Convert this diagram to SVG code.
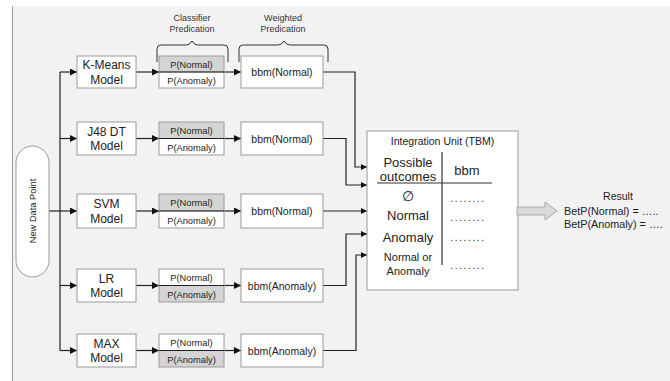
<svg xmlns="http://www.w3.org/2000/svg" width="670" height="381" viewBox="0 0 670 381">
<defs>
<marker id="ah" viewBox="0 0 10 10" refX="10" refY="5" markerWidth="8" markerHeight="7" markerUnits="userSpaceOnUse" orient="auto">
<path d="M0,0 L10,5 L0,10 z" fill="#111"/>
</marker>
<marker id="ahs" viewBox="0 0 10 10" refX="10" refY="5" markerWidth="7" markerHeight="6" markerUnits="userSpaceOnUse" orient="auto">
<path d="M0,0 L10,5 L0,10 z" fill="#111"/>
</marker>
<style>
text{font-family:"Liberation Sans",Arial,sans-serif;fill:#222}
.box{fill:#fff;stroke:#9a9a9a;stroke-width:1}
.hl{fill:#d4d4d4;stroke:#9a9a9a;stroke-width:1}
.ln{fill:none;stroke:#222;stroke-width:1.2}
.m{font-size:12px;text-anchor:middle}
.p{font-size:9.3px;text-anchor:middle}
.b{font-size:10.5px;text-anchor:middle}
.hd{font-size:9px;text-anchor:middle;fill:#333}
.br{fill:none;stroke:#333;stroke-width:1}
.t{font-size:13px;text-anchor:middle}
.d{font-size:10px;text-anchor:middle;letter-spacing:1.6px}
</style>
</defs>
<rect x="12" y="6" width="658" height="375" fill="#f2f2f2"/>
<line x1="12.5" y1="6" x2="12.5" y2="381" stroke="#999" stroke-width="1"/>

<g id="headers">
<text class="hd" x="192" y="20.5">Classifier</text>
<text class="hd" x="192" y="32">Predication</text>
<text class="hd" x="283" y="20.5">Weighted</text>
<text class="hd" x="283" y="32">Predication</text>
<path class="br" d="M157,62 V49 Q157,45 161,45 H186 Q190,45 192,41 Q194,45 198,45 H224 Q228,45 228,49 V62"/>
<path class="br" d="M239,62 V49 Q239,45 243,45 H278 Q282,45 284,41 Q286,45 290,45 H324 Q328,45 328,49 V62"/>
</g>

<g id="connectors">
<path class="ln" d="M49,211 H77" marker-end="url(#ah)"/>
<path class="ln" d="M60,72 V350.5"/>
<path class="ln" d="M60,72 H77" marker-end="url(#ah)"/>
<path class="ln" d="M60,138.5 H77" marker-end="url(#ah)"/>
<path class="ln" d="M60,285.5 H77" marker-end="url(#ah)"/>
<path class="ln" d="M60,350.5 H77" marker-end="url(#ah)"/>
<path class="ln" d="M136,72 H159" marker-end="url(#ah)"/>
<path class="ln" d="M136,138.5 H159" marker-end="url(#ah)"/>
<path class="ln" d="M136,211 H159" marker-end="url(#ah)"/>
<path class="ln" d="M136,285.5 H159" marker-end="url(#ah)"/>
<path class="ln" d="M136,350.5 H159" marker-end="url(#ah)"/>
<path class="ln" d="M224,72 H241" marker-end="url(#ah)"/>
<path class="ln" d="M224,138.5 H241" marker-end="url(#ah)"/>
<path class="ln" d="M224,211 H241" marker-end="url(#ah)"/>
<path class="ln" d="M224,285.5 H241" marker-end="url(#ah)"/>
<path class="ln" d="M224,350.5 H241" marker-end="url(#ah)"/>
<path class="ln" d="M323,72 H355 V167 H367" marker-end="url(#ahs)"/>
<path class="ln" d="M323,138.5 H346 V185 H367" marker-end="url(#ahs)"/>
<path class="ln" d="M323,211 H367" marker-end="url(#ahs)"/>
<path class="ln" d="M323,285.5 H346 V234 H367" marker-end="url(#ahs)"/>
<path class="ln" d="M323,350.5 H356 V255 H367" marker-end="url(#ahs)"/>
</g>

<g id="new-data-point">
<rect class="box" x="16" y="146" width="33" height="131" rx="16.5" ry="16.5"/>
<text class="p" transform="translate(35.5,211) rotate(-90)">New Data Point</text>
</g>

<g id="kmeans-model"><rect class="box" x="77" y="56" width="59" height="32"/><text class="m" x="106.5" y="69">K-Means</text><text class="m" x="106.5" y="83.5">Model</text></g>
<g id="j48-model"><rect class="box" x="77" y="122" width="59" height="33"/><text class="m" x="106.5" y="135.5">J48 DT</text><text class="m" x="106.5" y="150">Model</text></g>
<g id="svm-model"><rect class="box" x="77" y="194" width="59" height="34"/><text class="m" x="106.5" y="208">SVM</text><text class="m" x="106.5" y="222.5">Model</text></g>
<g id="lr-model"><rect class="box" x="77" y="269" width="59" height="33"/><text class="m" x="106.5" y="282.5">LR</text><text class="m" x="106.5" y="297">Model</text></g>
<g id="max-model"><rect class="box" x="77" y="334" width="59" height="33"/><text class="m" x="106.5" y="347.5">MAX</text><text class="m" x="106.5" y="362">Model</text></g>

<g id="kmeans-pred"><rect class="hl" x="159" y="56" width="65" height="16"/><rect class="box" x="159" y="72" width="65" height="16"/><line x1="159" y1="72" x2="224" y2="72" stroke="#222" stroke-width="1.2"/><text class="p" x="191.5" y="67.5">P(Normal)</text><text class="p" x="191.5" y="84">P(Anomaly)</text></g>
<g id="j48-pred"><rect class="hl" x="159" y="122" width="65" height="16.5"/><rect class="box" x="159" y="138.5" width="65" height="16.5"/><line x1="159" y1="138.5" x2="224" y2="138.5" stroke="#222" stroke-width="1.2"/><text class="p" x="191.5" y="134">P(Normal)</text><text class="p" x="191.5" y="151">P(Anomaly)</text></g>
<g id="svm-pred"><rect class="hl" x="159" y="194" width="65" height="17"/><rect class="box" x="159" y="211" width="65" height="17"/><line x1="159" y1="211" x2="224" y2="211" stroke="#222" stroke-width="1.2"/><text class="p" x="191.5" y="206">P(Normal)</text><text class="p" x="191.5" y="223.5">P(Anomaly)</text></g>
<g id="lr-pred"><rect class="box" x="159" y="269" width="65" height="16.5"/><rect class="hl" x="159" y="285.5" width="65" height="16.5"/><line x1="159" y1="285.5" x2="224" y2="285.5" stroke="#222" stroke-width="1.2"/><text class="p" x="191.5" y="281">P(Normal)</text><text class="p" x="191.5" y="298">P(Anomaly)</text></g>
<g id="max-pred"><rect class="box" x="159" y="334" width="65" height="16.5"/><rect class="hl" x="159" y="350.5" width="65" height="16.5"/><line x1="159" y1="350.5" x2="224" y2="350.5" stroke="#222" stroke-width="1.2"/><text class="p" x="191.5" y="346">P(Normal)</text><text class="p" x="191.5" y="363">P(Anomaly)</text></g>

<g id="kmeans-bbm"><rect class="box" x="241" y="56" width="82" height="32"/><text class="b" x="282" y="76">bbm(Normal)</text></g>
<g id="j48-bbm"><rect class="box" x="241" y="122" width="82" height="33"/><text class="b" x="282" y="142.5">bbm(Normal)</text></g>
<g id="svm-bbm"><rect class="box" x="241" y="194" width="82" height="34"/><text class="b" x="282" y="215">bbm(Normal)</text></g>
<g id="lr-bbm"><rect class="box" x="241" y="269" width="82" height="33"/><text class="b" x="282" y="289.5">bbm(Anomaly)</text></g>
<g id="max-bbm"><rect class="box" x="241" y="334" width="82" height="33"/><text class="b" x="282" y="354.5">bbm(Anomaly)</text></g>

<g id="integration-unit">
<rect class="box" x="367" y="131" width="151" height="159"/>
<text x="442.5" y="144.5" style="font-size:10.5px;text-anchor:middle">Integration Unit (TBM)</text>
<line x1="442" y1="152" x2="442" y2="265" stroke="#333" stroke-width="1.2"/>
<line x1="377" y1="183" x2="492" y2="183" stroke="#333" stroke-width="1.2"/>
<text class="t" x="408" y="167">Possible</text>
<text class="t" x="408" y="181">outcomes</text>
<text class="t" x="467" y="175">bbm</text>
<text x="408" y="201" style="font-size:14px;text-anchor:middle">∅</text>
<text class="t" x="408" y="220">Normal</text>
<text class="t" x="408" y="242">Anomaly</text>
<text x="408" y="261" style="font-size:11px;text-anchor:middle">Normal or</text>
<text x="408" y="275" style="font-size:11px;text-anchor:middle">Anomaly</text>
<text class="d" x="468" y="202">........</text>
<text class="d" x="468" y="221">........</text>
<text class="d" x="468" y="241">........</text>
<text class="d" x="468" y="269">........</text>
</g>

<g id="output-arrow">
<path d="M517,207 H545 V202 L557,211 L545,220 V215 H517 Z" fill="#dadada" stroke="#a8a8a8" stroke-width="1"/>
</g>

<g id="result">
<text x="618" y="200" style="font-size:10.5px;text-anchor:middle">Result</text>
<text x="564" y="215" style="font-size:10.8px">BetP(Normal) = …..</text>
<text x="564" y="227.5" style="font-size:10.8px">BetP(Anomaly) = ….</text>
</g>
</svg>
